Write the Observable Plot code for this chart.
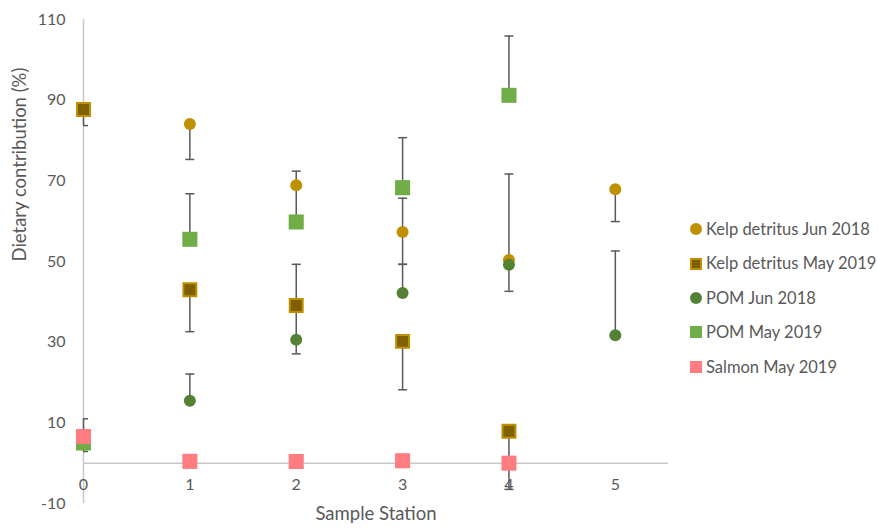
<!DOCTYPE html>
<html>
<head>
<meta charset="utf-8">
<script src="https://cdn.jsdelivr.net/npm/d3@7"></script>
<script src="https://cdn.jsdelivr.net/npm/@observablehq/plot@0.6"></script>
<style>
  html, body { margin: 0; padding: 0; background: #fff; }
  #wrap { position: relative; width: 878px; height: 530px; font-family: Lato, "Open Sans", sans-serif; color: #595959; }
  #legend { position: absolute; left: 690px; top: 212px; font-size: 16.5px; line-height: 34.4px; }
  #legend .item { display: flex; align-items: center; white-space: nowrap; }
  #legend .mk { display: inline-block; width: 12px; height: 12px; margin-right: 4px; box-sizing: border-box; }
</style>
</head>
<body>
<div id="wrap"><div id="legend"></div></div>
<script>
// ---- data ----
const stations = [0, 1, 2, 3, 4, 5];
const seriesNames = ["Kelp detritus Jun 2018", "Kelp detritus May 2019", "POM Jun 2018", "POM May 2019", "Salmon May 2019"];

const kelpJun2018   = [null, 84.1, 68.9, 57.3, 50.4, 67.9];
const kelpJun2018Lo = [null, 75.3, null, 49.3, null, 59.9];
const kelpJun2018Hi = [null, null, null, 65.7, 71.7, null];

const kelpMay2019   = [87.7, 43.0, 39.1, 30.2, 7.9, null];
const kelpMay2019Lo = [83.7, 32.6, null, 18.2, -6.5, null];
const kelpMay2019Hi = [null, null, null, null, null, null];

const pomJun2018    = [null, 15.5, 30.6, 42.2, 49.2, 31.7];
const pomJun2018Lo  = [null, null, 27.1, null, 42.6, null];
const pomJun2018Hi  = [null, 22.1, 49.3, 49.3, null, 52.6];

const pomMay2019    = [5.0, 55.5, 59.8, 68.3, 91.2, null];
const pomMay2019Lo  = [2.9, null, null, null, null, null];
const pomMay2019Hi  = [11.0, 66.8, 72.4, 80.7, 105.9, null];

const salmonMay2019   = [6.6, 0.45, 0.4, 0.6, 0.0, null];
const salmonMay2019Lo = [null, null, null, null, null, null];
const salmonMay2019Hi = [null, null, null, null, null, null];

const yTicks = [-10, 10, 30, 50, 70, 90, 110];
const xTicks = [0, 1, 2, 3, 4, 5];
const xLabel = "Sample Station";
const yLabel = "Dietary contribution (%)";

// ---- styles ----
const styles = [
  {symbol: "circle", r: 6,    fill: "#BF9000", stroke: "none",    sw: 0},
  {symbol: "square", r: 7.3,  fill: "#7F6000", stroke: "#BF9000", sw: 2},
  {symbol: "circle", r: 6,    fill: "#548235", stroke: "none",    sw: 0},
  {symbol: "square", r: 8.5,  fill: "#70AD47", stroke: "none",    sw: 0},
  {symbol: "square", r: 8.5,  fill: "#FF7C80", stroke: "none",    sw: 0}
];
const valueSets = [
  [kelpJun2018, kelpJun2018Lo, kelpJun2018Hi],
  [kelpMay2019, kelpMay2019Lo, kelpMay2019Hi],
  [pomJun2018, pomJun2018Lo, pomJun2018Hi],
  [pomMay2019, pomMay2019Lo, pomMay2019Hi],
  [salmonMay2019, salmonMay2019Lo, salmonMay2019Hi]
];

// ---- tables ----
const rows = [];
const errRows = [];
valueSets.forEach(([vals, lo, hi], si) => {
  vals.forEach((v, i) => {
    if (v == null) return;
    rows.push({series: seriesNames[si], si, x: stations[i], y: v});
    if (lo[i] != null) errRows.push({x: stations[i], y1: v, y2: lo[i]});
    if (hi[i] != null) errRows.push({x: stations[i], y1: v, y2: hi[i]});
  });
});

const capSymbol = {
  draw(context, size) {
    const r = Math.sqrt(size / Math.PI);
    context.moveTo(-r, 0);
    context.lineTo(r, 0);
  }
};

const marks = [
  Plot.ruleY([0], {stroke: "#C8C8C8", strokeWidth: 1.5}),
  Plot.ruleX([0], {stroke: "#C8C8C8", strokeWidth: 1.5}),
  Plot.axisY(yTicks, {tickSize: 0, tickPadding: 18, label: null, fontSize: 16, fill: "#595959", tickFormat: d => String(d)}),
  Plot.text(xTicks, {x: d => d, y: 0, dy: 22, text: d => String(d), fontSize: 16, fill: "#595959"}),
  Plot.text([yLabel], {frameAnchor: "left", rotate: -90, dx: -63, fontSize: 18.5, fill: "#595959"}),
  Plot.text([xLabel], {frameAnchor: "bottom", dy: 16, fontSize: 18.5, fill: "#595959"}),
  Plot.ruleX(errRows, {x: "x", y1: "y1", y2: "y2", stroke: "#595959", strokeWidth: 1.5}),
  Plot.dot(errRows, {x: "x", y: "y2", symbol: capSymbol, r: 4.5, fill: "none", stroke: "#595959", strokeWidth: 1.5, clip: true})
];
styles.forEach((s, si) => {
  marks.push(Plot.dot(rows.filter(d => d.si === si), {
    x: "x", y: "y", symbol: s.symbol, r: s.r, fill: s.fill,
    stroke: s.stroke, strokeWidth: s.sw
  }));
});

const chart = Plot.plot({
  width: 878,
  height: 530,
  marginLeft: 83,
  marginRight: 210,
  marginTop: 19,
  marginBottom: 27,
  style: {fontFamily: "Lato, 'Open Sans', sans-serif", background: "#fff", overflow: "visible"},
  x: {domain: [0, 5.5], axis: null},
  y: {domain: [-10, 110], axis: null},
  marks
});
const wrap = document.getElementById("wrap");
wrap.insertBefore(chart, wrap.firstChild);

// ---- legend ----
const legend = document.getElementById("legend");
styles.forEach((s, si) => {
  const item = document.createElement("div");
  item.className = "item";
  const mk = document.createElement("span");
  mk.className = "mk";
  mk.style.background = s.fill;
  if (s.symbol === "circle") mk.style.borderRadius = "50%";
  if (s.stroke !== "none") mk.style.border = `2px solid ${s.stroke}`;
  item.appendChild(mk);
  item.appendChild(document.createTextNode(seriesNames[si]));
  legend.appendChild(item);
});
</script>
</body>
</html>
